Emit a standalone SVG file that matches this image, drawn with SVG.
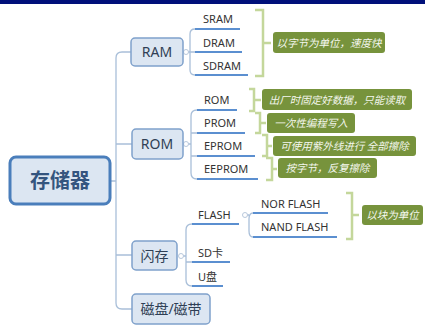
<svg xmlns="http://www.w3.org/2000/svg" width="425" height="325" viewBox="0 0 425 325">
<style>
.conn{fill:none;stroke:#a9bfd9;stroke-width:1.3}
.ul{stroke:#5b8fd0;stroke-width:2;fill:none}
.dot{fill:#fff;stroke:#b8c8dc;stroke-width:1}
.br{fill:none;stroke:#c4d79b;stroke-width:2.5}
.node{fill:#dce6f2;stroke:#7fa1cb;stroke-width:1.5}
.ntext{font-family:"Noto Sans","Noto Sans CJK SC",sans-serif;font-size:14px;fill:#2f3f55;text-anchor:middle}
.sub{font-family:"Noto Sans","Noto Sans CJK SC",sans-serif;font-size:11px;fill:#333}
.lab{fill:#77933c}
.ltext{font-family:"Noto Sans CJK SC",sans-serif;font-size:10.5px;fill:#f4f7ee;text-anchor:middle}
</style>
<rect x="0" y="0" width="425" height="325" fill="#fff"/>
<rect x="0" y="0" width="425" height="4" fill="#00107a"/>

<g id="connectors">
  <path class="conn" d="M131,52 H122 Q116,52 116,58 V303 Q116,309 122,309 H132"/>
  <path class="conn" d="M116,144 H132 M110,181 H116 M116,255 H132"/>
  <path class="conn" d="M188,52 H190 M195,29 Q190,29 190,34 V70 Q190,75 195,75 M190,52 H195"/>
  <path class="conn" d="M188,144 H191 M197,110 Q191,110 191,116 V173 Q191,179 197,179 M191,133 H197 M191,156 H197"/>
  <path class="conn" d="M183,256 H186 M192,224 Q186,224 186,230 V280 Q186,286 192,286 M186,262 H192"/>
  <path class="conn" d="M247,215 H249 M253,213 Q249,213 249,219 V231 Q249,237 253,237"/>
  <circle class="dot" cx="186" cy="52" r="2.5"/>
  <circle class="dot" cx="186" cy="144" r="2.5"/>
  <circle class="dot" cx="181" cy="256" r="2.5"/>
  <circle class="dot" cx="245" cy="215" r="2.5"/>
</g>

<g id="root">
  <rect x="10" y="157" width="100" height="47" rx="6" fill="#dce6f2" stroke="#4a7ebb" stroke-width="3"/>
  <text x="60" y="188" font-family="Noto Sans CJK SC,sans-serif" font-size="20" font-weight="bold" fill="#34557f" text-anchor="middle">存储器</text>
</g>

<g id="ram">
  <rect class="node" x="131" y="38" width="52" height="28" rx="4"/>
  <text class="ntext" x="157" y="57">RAM</text>
</g>
<g id="sram"><text class="sub" x="203" y="23">SRAM</text><line class="ul" x1="195" y1="29" x2="240" y2="29"/></g>
<g id="dram"><text class="sub" x="203" y="47">DRAM</text><line class="ul" x1="195" y1="52" x2="242" y2="52"/></g>
<g id="sdram"><text class="sub" x="203" y="70">SDRAM</text><line class="ul" x1="195" y1="75" x2="248" y2="75"/></g>
<g id="ram-note">
  <path class="br" d="M255,10 H263 V76 H255 M263,43 H271"/>
  <rect class="lab" x="273" y="32" width="112" height="21" rx="3"/>
  <text class="ltext" transform="translate(329,46.5) skewX(-14)">以字节为单位，速度快</text>
</g>

<g id="rom">
  <rect class="node" x="132" y="129" width="51" height="30" rx="4"/>
  <text class="ntext" x="157" y="149">ROM</text>
</g>
<g id="rom-sub"><text class="sub" x="204" y="104">ROM</text><line class="ul" x1="197" y1="110" x2="237" y2="110"/></g>
<g id="prom"><text class="sub" x="204" y="127">PROM</text><line class="ul" x1="197" y1="133" x2="245" y2="133"/></g>
<g id="eprom"><text class="sub" x="204" y="150">EPROM</text><line class="ul" x1="197" y1="156" x2="255" y2="156"/></g>
<g id="eeprom"><text class="sub" x="204" y="173">EEPROM</text><line class="ul" x1="197" y1="179" x2="258" y2="179"/></g>
<g id="rom-note">
  <path class="br" d="M249,89 H254 V111 H249 M254,100 H261"/>
  <rect class="lab" x="262" y="89" width="150" height="21" rx="3"/>
  <text class="ltext" transform="translate(337,103.5) skewX(-14)">出厂时固定好数据，只能读取</text>
</g>
<g id="prom-note">
  <path class="br" d="M255,113 H260 V133 H255 M260,123 H266"/>
  <rect class="lab" x="267" y="113" width="88" height="20" rx="3"/>
  <text class="ltext" transform="translate(311,127) skewX(-14)">一次性编程写入</text>
</g>
<g id="eprom-note">
  <path class="br" d="M262,135 H267 V156 H262 M267,146 H272"/>
  <rect class="lab" x="273" y="136" width="143" height="20" rx="3"/>
  <text class="ltext" transform="translate(344.5,150) skewX(-14)">可使用紫外线进行 全部擦除</text>
</g>
<g id="eeprom-note">
  <path class="br" d="M266,158 H272 V180 H266 M272,169 H277"/>
  <rect class="lab" x="278" y="158" width="99" height="20" rx="3"/>
  <text class="ltext" transform="translate(327.5,172) skewX(-14)">按字节，反复擦除</text>
</g>

<g id="flashmem">
  <rect class="node" x="132" y="241" width="45" height="29" rx="4"/>
  <text class="ntext" x="154.5" y="260.5">闪存</text>
</g>
<g id="flash"><text class="sub" x="198" y="219">FLASH</text><line class="ul" x1="192" y1="224" x2="239" y2="224"/></g>
<g id="nor"><text class="sub" x="261" y="208">NOR FLASH</text><line class="ul" x1="253" y1="213" x2="328" y2="213"/></g>
<g id="nand"><text class="sub" x="261" y="231">NAND FLASH</text><line class="ul" x1="253" y1="237" x2="337" y2="237"/></g>
<g id="sd"><text class="sub" x="198" y="257">SD卡</text><line class="ul" x1="192" y1="262" x2="230" y2="262"/></g>
<g id="udisk"><text class="sub" x="198" y="281">U盘</text><line class="ul" x1="192" y1="286" x2="223" y2="286"/></g>
<g id="flash-note">
  <path class="br" d="M346,193 H352 V239 H346 M352,215 H359"/>
  <rect class="lab" x="362" y="205" width="61" height="20" rx="3"/>
  <text class="ltext" transform="translate(392.5,219) skewX(-14)">以块为单位</text>
</g>

<g id="disk">
  <rect class="node" x="132" y="294" width="78" height="30" rx="4"/>
  <text class="ntext" x="171" y="314">磁盘/磁带</text>
</g>
</svg>
